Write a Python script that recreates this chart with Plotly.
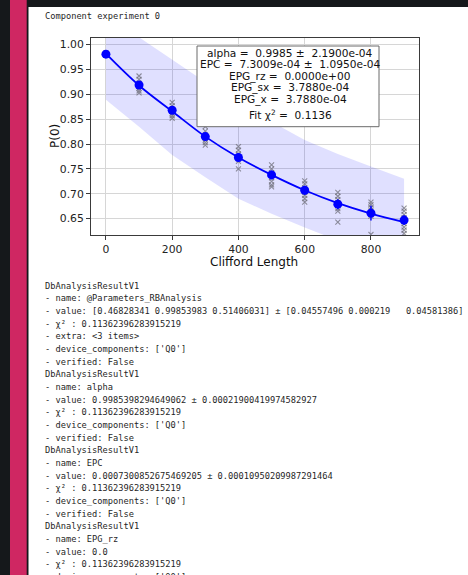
import plotly.graph_objects as go

# ---- RB experiment data -------------------------------------------------
lengths = [0, 100, 200, 300, 400, 500, 600, 700, 800, 900]

samples = [
    [0.983, 0.982, 0.981, 0.980, 0.979, 0.981],
    [0.937, 0.930, 0.922, 0.918, 0.912, 0.907, 0.903],
    [0.884, 0.877, 0.870, 0.866, 0.862, 0.857, 0.852],
    [0.835, 0.826, 0.818, 0.813, 0.808, 0.803, 0.798],
    [0.795, 0.788, 0.780, 0.775, 0.770, 0.765, 0.750],
    [0.758, 0.750, 0.742, 0.738, 0.732, 0.725, 0.718, 0.714],
    [0.726, 0.720, 0.712, 0.708, 0.703, 0.697, 0.690, 0.683],
    [0.703, 0.695, 0.688, 0.682, 0.676, 0.670, 0.665, 0.643],
    [0.683, 0.678, 0.672, 0.667, 0.662, 0.658, 0.655, 0.618],
    [0.671, 0.665, 0.658, 0.652, 0.646, 0.640, 0.633, 0.627, 0.620],
]

mean_p0 = [0.981, 0.919, 0.868, 0.815, 0.773, 0.738, 0.707, 0.679, 0.661, 0.647]
mean_err = [0.001, 0.006, 0.006, 0.007, 0.008, 0.009, 0.009, 0.010, 0.015, 0.010]

fit_p0 = [0.982, 0.918, 0.866, 0.815, 0.773, 0.738, 0.707, 0.681, 0.660, 0.643]
band_upper = [1.060, 1.015, 0.970, 0.925, 0.885, 0.845, 0.808, 0.780, 0.755, 0.730]
band_lower = [0.889, 0.835, 0.778, 0.733, 0.690, 0.660, 0.632, 0.605, 0.580, 0.560]

x_ticks = [0, 200, 400, 600, 800]
y_ticks = [0.65, 0.70, 0.75, 0.80, 0.85, 0.90, 0.95, 1.00]

fit_report = [
    "alpha =  0.9985 ±  2.1900e-04",
    "EPC =  7.3009e-04 ±  1.0950e-04",
    "EPG_rz =  0.0000e+00",
    "EPG_sx =  3.7880e-04",
    "EPG_x =  3.7880e-04",
    "Fit χ<sup>2</sup> =  0.1136",
]

header = "Component experiment 0"
result_lines = [
    "DbAnalysisResultV1",
    "- name: @Parameters_RBAnalysis",
    "- value: [0.46828341 0.99853983 0.51406031] ± [0.04557496 0.000219   0.04581386]",
    "- χ² : 0.11362396283915219",
    "- extra: &lt;3 items&gt;",
    "- device_components: ['Q0']",
    "- verified: False",
    "DbAnalysisResultV1",
    "- name: alpha",
    "- value: 0.9985398294649062 ± 0.00021900419974582927",
    "- χ² : 0.11362396283915219",
    "- device_components: ['Q0']",
    "- verified: False",
    "DbAnalysisResultV1",
    "- name: EPC",
    "- value: 0.0007300852675469205 ± 0.00010950209987291464",
    "- χ² : 0.11362396283915219",
    "- device_components: ['Q0']",
    "- verified: False",
    "DbAnalysisResultV1",
    "- name: EPG_rz",
    "- value: 0.0",
    "- χ² : 0.11362396283915219",
    "- device_components: ['Q0']",
]

# ---- page geometry (pixels) ---------------------------------------------
W, H = 468, 575


def px(x):
    return x / W


def py(y):
    return 1 - y / H


def nb(s):
    return s.replace(" ", "\u00a0")


DARK = "#15181b"
MAGENTA = "#cf2762"
TEXT = "#1f1f1f"
MONO = "DejaVu Sans Mono"
SANS = "DejaVu Sans"

fig = go.Figure()

# confidence band
fig.add_trace(go.Scatter(x=lengths, y=band_upper, mode="lines",
                         line=dict(width=0, color="rgba(0,0,255,0)"),
                         showlegend=False, hoverinfo="skip"))
fig.add_trace(go.Scatter(x=lengths, y=band_lower, mode="lines",
                         line=dict(width=0, color="rgba(0,0,255,0)"),
                         fill="tonexty", fillcolor="rgba(0,0,255,0.12)",
                         showlegend=False, hoverinfo="skip"))

# raw samples
sx, sy = [], []
for L, vals in zip(lengths, samples):
    sx.extend([L] * len(vals))
    sy.extend(vals)
fig.add_trace(go.Scatter(x=sx, y=sy, mode="markers",
                         marker=dict(symbol="x-thin", size=5,
                                     line=dict(width=1.1, color="rgba(110,110,120,0.75)")),
                         showlegend=False))

# fit curve
fig.add_trace(go.Scatter(x=lengths, y=fit_p0, mode="lines", line_shape="spline",
                         line=dict(color="#0000ff", width=1.8), showlegend=False))

# averaged points with error bars
fig.add_trace(go.Scatter(x=lengths, y=mean_p0, mode="markers",
                         marker=dict(color="#0000ff", size=9),
                         error_y=dict(type="data", array=mean_err, color="#0000ff",
                                      thickness=1.5, width=0),
                         showlegend=False))

shapes = [
    dict(type="rect", xref="paper", yref="paper", x0=0, x1=1, y0=py(7), y1=1,
         fillcolor=DARK, line_width=0, layer="below"),
    dict(type="rect", xref="paper", yref="paper", x0=0, x1=px(28.5), y0=0, y1=1,
         fillcolor=DARK, line_width=0, layer="below"),
    dict(type="rect", xref="paper", yref="paper", x0=px(10), x1=px(26.7), y0=0, y1=1,
         fillcolor=MAGENTA, line_width=0, layer="below"),
    # fit report box
    dict(type="rect", xref="paper", yref="paper", x0=px(197), x1=px(379),
         y0=py(126.7), y1=py(46), fillcolor="white",
         line=dict(color="#6a6a6a", width=1), layer="above"),
]

annotations = []
report_y = [52.7, 64.4, 76.1, 87.8, 99.5, 114.0]
for txt, yy in zip(fit_report, report_y):
    annotations.append(dict(text=nb(txt), xref="paper", yref="paper", x=px(290),
                            y=py(yy), xanchor="center", yanchor="middle",
                            showarrow=False, font=dict(family=SANS, size=10.6, color="#111")))

annotations.append(dict(text="Clifford Length", xref="paper", yref="paper",
                        x=px(254), y=py(262), xanchor="center", yanchor="middle",
                        showarrow=False, font=dict(family=SANS, size=12, color="#111")))
annotations.append(dict(text="P(0)", xref="paper", yref="paper", textangle=-90,
                        x=px(55), y=py(136), xanchor="center", yanchor="middle",
                        showarrow=False, font=dict(family=SANS, size=12, color="#111")))

annotations.append(dict(text=nb(header), xref="paper", yref="paper", x=px(43), y=py(16),
                        xanchor="left", yanchor="middle", showarrow=False,
                        font=dict(family=MONO, size=8.7, color=TEXT)))
for i, line in enumerate(result_lines):
    annotations.append(dict(text=nb(line), xref="paper", yref="paper", x=px(43),
                            y=py(285.5 + i * 12.67), xanchor="left", yanchor="middle",
                            showarrow=False, font=dict(family=MONO, size=8.7, color=TEXT)))

axis_common = dict(showline=True, mirror=True, linecolor="#3a3a3a", linewidth=1,
                   ticks="outside", ticklen=4, tickcolor="#3a3a3a",
                   showgrid=True, gridcolor="#d6d6d6", gridwidth=1, zeroline=False,
                   tickfont=dict(family=SANS, size=10.8, color="#222"))

fig.update_layout(
    width=W, height=H,
    margin=dict(l=0, r=0, t=0, b=0),
    paper_bgcolor="white", plot_bgcolor="white",
    xaxis=dict(domain=[px(91), px(419)], range=[-45, 945], tickvals=x_ticks,
               **axis_common),
    yaxis=dict(domain=[py(235), py(37.5)], range=[0.617, 1.0145], tickvals=y_ticks,
               tickformat=".2f", **axis_common),
    shapes=shapes,
    annotations=annotations,
    showlegend=False,
)

fig.write_html("out.html")
